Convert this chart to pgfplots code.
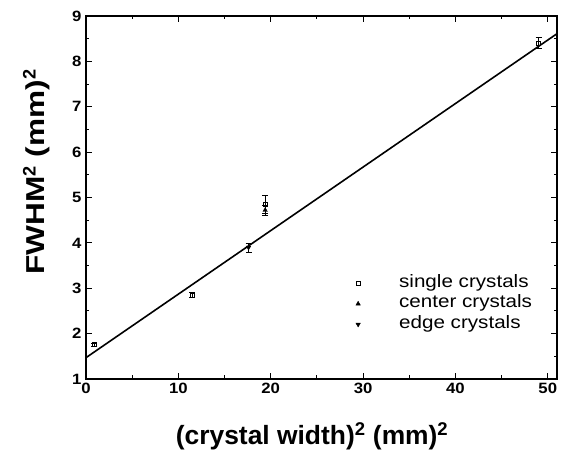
\documentclass[border=0pt]{standalone}
\usepackage{pgfplots}
\pgfplotsset{compat=1.18}
\usepackage{fontspec}
\setmainfont{Liberation Sans}
\newfontfamily\tickfont{Liberation Sans}[FakeStretch=1.12]
\newfontfamily\ylabfont{Liberation Sans}[FakeStretch=1.22]
\newfontfamily\legfont{Liberation Sans}[FakeStretch=1.15]
\begin{document}
\begin{tikzpicture}
\begin{axis}[
  scale only axis,
  width=471bp, height=363bp,
  xmin=0, xmax=51, ymin=1, ymax=9,
  xtick={0,10,20,30,40,50},
  ytick={1,2,3,4,5,6,7,8,9},
  minor x tick num=1,
  minor y tick num=1,
  tick align=inside,
  major tick length=6bp,
  minor tick length=3.5bp,
  tick style={line width=0.9bp, black},
  axis line style={line width=1.1bp},
  /pgf/number format/assume math mode=true,
  ticklabel style={font=\tickfont\fontsize{15}{15}\selectfont\bfseries},
  xticklabel style={yshift=-1bp},
  yticklabel style={xshift=-1bp},
  xlabel={(crystal width)$^{\mathbf 2}$ (mm)$^{\mathbf 2}$},
  ylabel={FWHM$^{\mathbf 2}$ (mm)$^{\mathbf 2}$},
  xlabel style={font=\fontsize{26.5}{26.5}\selectfont\bfseries, at={(axis description cs:0.48,-0.157)}, anchor=center},
  ylabel style={font=\ylabfont\fontsize{26}{26}\selectfont\bfseries, at={(axis description cs:-0.105,0.57)}, anchor=center},
  legend style={draw=none, fill=none, at={(rel axis cs:0.571,0.286)}, anchor=north west,
    font=\legfont\fontsize{18}{18}\selectfont, row sep=4.5bp, inner sep=0pt,
    nodes={inner sep=0pt, text height=12bp, text depth=4bp}},
  legend cell align=left,
  legend image code/.code={\path[draw=none] (0bp,0bp) -- (44bp,0bp); \draw[#1] plot coordinates {(3bp,0bp)};},
  error bars/error bar style={line width=0.6bp, black},
  error bars/error mark options={rotate=90, mark size=3bp, line width=0.6bp, black},
]
\addplot[only marks, mark=square, mark size=2.2bp, black, mark options={line width=0.6bp, fill=white},
  error bars/.cd, y dir=both, y explicit]
  coordinates {
  (0.9,1.76) +- (0,0.03)
  (11.5,2.85) +- (0,0.05)
  (19.4,4.85) +- (0,0.2)
  (49.0,8.40) +- (0,0.12)
  };
\addlegendentry{single crystals}
\addplot[only marks, mark=triangle*, mark size=2.6bp, black,
  error bars/.cd, y dir=both, y explicit]
  coordinates {
  (19.4,4.72) +- (0,0.11)
  };
\addlegendentry{center crystals}
\addplot[only marks, mark=triangle*, mark size=2.6bp, black, mark options={rotate=180},
  error bars/.cd, y dir=both, y explicit]
  coordinates {
  (17.6,3.90) +- (0,0.1)
  };
\addlegendentry{edge crystals}
\addplot[black, line width=1.6bp, forget plot] coordinates {(0,1.47) (51,8.61)};
\coordinate (bl) at (rel axis cs:0,0);
\coordinate (tr) at (rel axis cs:1,1);
\end{axis}
\pgfresetboundingbox
\path[use as bounding box] ([xshift=-86bp,yshift=-75bp]bl) rectangle ([xshift=8bp,yshift=16bp]tr);
\end{tikzpicture}
\end{document}
